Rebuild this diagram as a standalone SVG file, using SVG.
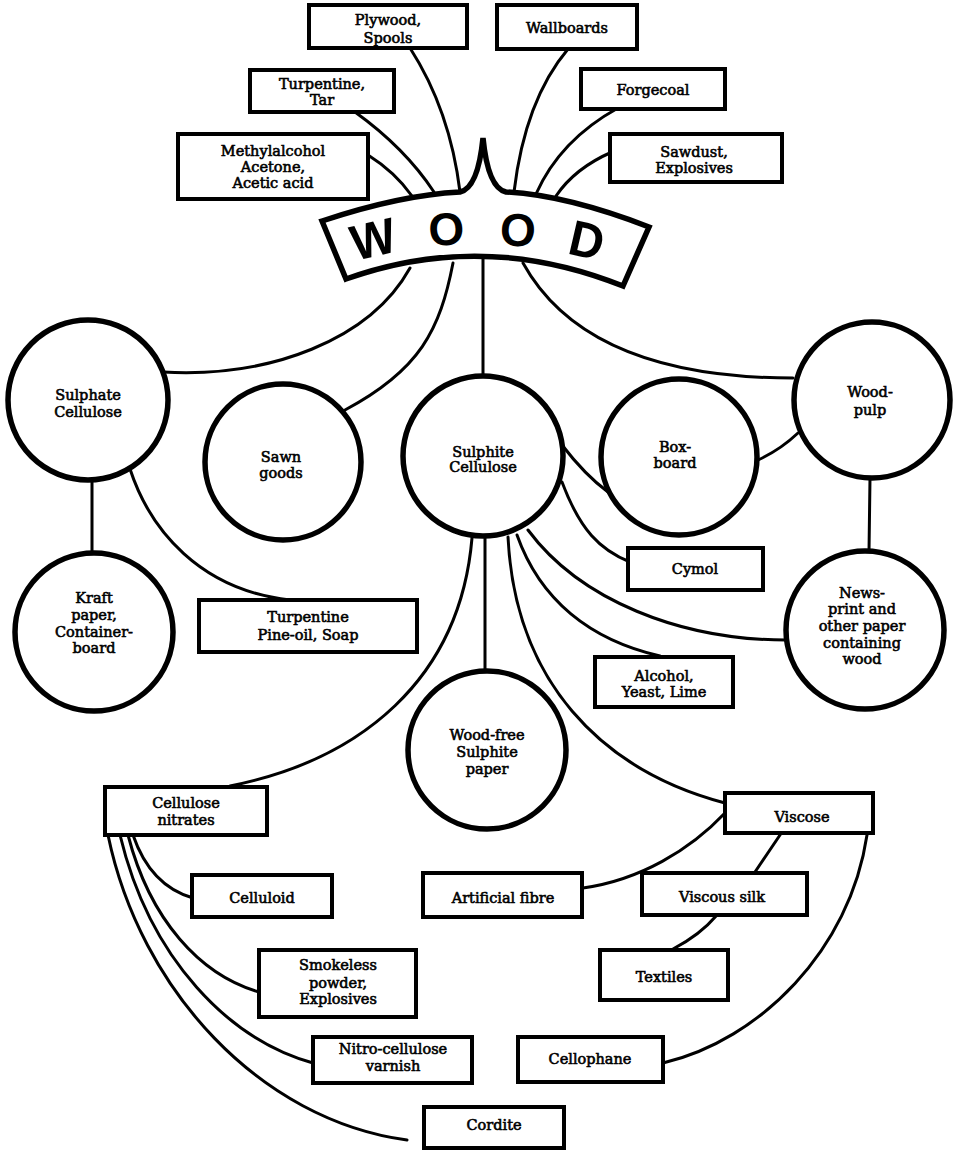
<svg xmlns="http://www.w3.org/2000/svg" width="953" height="1150" viewBox="0 0 953 1150">
<style>
.c{fill:none;stroke:#000;stroke-width:3;stroke-linecap:round}
.b{fill:#fff;stroke:#000;stroke-width:4}
.o{fill:#fff;stroke:#000;stroke-width:5.5}
text{font-family:"DejaVu Serif","Liberation Serif",serif;font-size:14.5px;fill:#000;stroke:#000;stroke-width:0.6;text-anchor:middle}
text.w{font-family:"Liberation Sans",sans-serif;font-weight:bold;stroke:none}
text.w1{font-size:50px}
text.w2{font-size:46px}
</style>
<rect width="953" height="1150" fill="#fff"/>
<g id="connectors">
<path class="c" d="M368,155 Q395,172 412,196"/>
<path class="c" d="M355,112 Q405,148 434,192"/>
<path class="c" d="M410,48 Q450,110 460,192"/>
<path class="c" d="M568,49 Q525,100 514,192"/>
<path class="c" d="M618,108 Q560,140 536,194"/>
<path class="c" d="M612,152 Q575,168 556,196"/>
<path class="c" d="M410,268 C370,340 270,378 163,372"/>
<path class="c" d="M453,263 C440,330 420,370 345,410"/>
<path class="c" d="M483,258 L483,377"/>
<path class="c" d="M523,263 C560,330 640,378 793,378"/>
<path class="c" d="M92,478 L92,555"/>
<path class="c" d="M130,469 C150,530 200,590 290,600"/>
<path class="c" d="M798,433 Q780,450 758,460"/>
<path class="c" d="M870,478 L869,552"/>
<path class="c" d="M562,445 Q585,475 608,492"/>
<path class="c" d="M562,482 C580,530 600,550 630,562"/>
<path class="c" d="M528,530 C580,600 680,640 786,640"/>
<path class="c" d="M517,535 C540,600 590,640 660,656"/>
<path class="c" d="M508,537 C515,680 600,770 725,803"/>
<path class="c" d="M485,538 L485,672"/>
<path class="c" d="M472,538 C460,680 360,760 230,786"/>
<path class="c" d="M725,813 C690,850 640,880 583,888"/>
<path class="c" d="M780,835 L755,872"/>
<path class="c" d="M717,915 Q700,935 673,949"/>
<path class="c" d="M867,835 C850,950 760,1040 663,1063"/>
<path class="c" d="M133,835 C145,870 165,890 193,898"/>
<path class="c" d="M128,835 C150,920 200,975 259,992"/>
<path class="c" d="M120,835 C150,960 230,1040 313,1063"/>
<path class="c" d="M108,835 C140,990 260,1120 407,1140"/>
</g>
<g id="wood">
<path class="o" d="M322,221 Q400,195 460,192 Q478,188 483,138 Q488,188 506,192 Q566,195 649,227 L623,286 Q483,230 346,279 Z"/>
<text class="w w1" transform="translate(377,256) rotate(-13) scale(0.95,1)">W</text>
<text class="w w2" transform="translate(447,245) rotate(-3)">O</text>
<text class="w w2" transform="translate(517,246) rotate(3)">O</text>
<text class="w w1" transform="translate(583,257) rotate(13) scale(0.95,1)">D</text>
</g>
<g id="plywood"><rect class="b" x="309" y="5" width="158" height="43"/><text x="388" y="25">Plywood,</text><text x="388" y="43">Spools</text></g>
<g id="wallboards"><rect class="b" x="497" y="5" width="140" height="44"/><text x="567" y="33">Wallboards</text></g>
<g id="turpentine-tar"><rect class="b" x="250" y="70" width="144" height="42"/><text x="322" y="89">Turpentine,</text><text x="322" y="105">Tar</text></g>
<g id="forgecoal"><rect class="b" x="581" y="69" width="144" height="40"/><text x="653" y="95">Forgecoal</text></g>
<g id="methylalcohol"><rect class="b" x="178" y="134" width="190" height="65"/><text x="273" y="156">Methylalcohol</text><text x="273" y="172">Acetone,</text><text x="273" y="188">Acetic  acid</text></g>
<g id="sawdust"><rect class="b" x="610" y="134" width="172" height="48"/><text x="694" y="157">Sawdust,</text><text x="694" y="173">Explosives</text></g>
<g id="sulphate"><circle class="o" cx="88" cy="400" r="80"/><text x="88" y="400">Sulphate</text><text x="88" y="417">Cellulose</text></g>
<g id="sawn"><circle class="o" cx="283" cy="462" r="78"/><text x="281" y="462">Sawn</text><text x="281" y="478">goods</text></g>
<g id="sulphite"><circle class="o" cx="483" cy="456" r="80"/><text x="483" y="457">Sulphite</text><text x="483" y="472">Cellulose</text></g>
<g id="boxboard"><circle class="o" cx="679" cy="457" r="78"/><text x="675" y="452">Box-</text><text x="675" y="468">board</text></g>
<g id="woodpulp"><circle class="o" cx="872" cy="400" r="78"/><text x="870" y="397">Wood-</text><text x="870" y="415">pulp</text></g>
<g id="kraft"><circle class="o" cx="94" cy="632" r="79"/><text x="94" y="603">Kraft</text><text x="94" y="620">paper,</text><text x="94" y="637">Container-</text><text x="94" y="653">board</text></g>
<g id="newsprint"><circle class="o" cx="865" cy="630" r="79"/><text x="862" y="598">News-</text><text x="862" y="614">print and</text><text x="862" y="631">other paper</text><text x="862" y="648">containing</text><text x="862" y="664">wood</text></g>
<g id="woodfree"><circle class="o" cx="487" cy="750" r="79"/><text x="487" y="740">Wood-free</text><text x="487" y="757">Sulphite</text><text x="487" y="774">paper</text></g>
<g id="turp-pine"><rect class="b" x="199" y="600" width="218" height="52"/><text x="308" y="622">Turpentine</text><text x="308" y="640">Pine-oil,  Soap</text></g>
<g id="cymol"><rect class="b" x="628" y="548" width="135" height="42"/><text x="695" y="574">Cymol</text></g>
<g id="alcohol"><rect class="b" x="595" y="657" width="138" height="50"/><text x="664" y="681">Alcohol,</text><text x="664" y="697">Yeast,  Lime</text></g>
<g id="cellulose-nitrates"><rect class="b" x="105" y="787" width="162" height="48"/><text x="186" y="808">Cellulose</text><text x="186" y="825">nitrates</text></g>
<g id="viscose"><rect class="b" x="725" y="793" width="148" height="40"/><text x="802" y="822">Viscose</text></g>
<g id="celluloid"><rect class="b" x="192" y="875" width="140" height="42"/><text x="262" y="903">Celluloid</text></g>
<g id="artificial"><rect class="b" x="423" y="873" width="159" height="44"/><text x="503" y="903">Artificial  fibre</text></g>
<g id="viscous"><rect class="b" x="642" y="873" width="165" height="42"/><text x="722" y="902">Viscous  silk</text></g>
<g id="smokeless"><rect class="b" x="259" y="950" width="157" height="67"/><text x="338" y="970">Smokeless</text><text x="338" y="988">powder,</text><text x="338" y="1004">Explosives</text></g>
<g id="textiles"><rect class="b" x="600" y="950" width="128" height="50"/><text x="664" y="982">Textiles</text></g>
<g id="nitro"><rect class="b" x="313" y="1037" width="159" height="46"/><text x="393" y="1054">Nitro-cellulose</text><text x="393" y="1071">varnish</text></g>
<g id="cellophane"><rect class="b" x="518" y="1037" width="145" height="45"/><text x="590" y="1064">Cellophane</text></g>
<g id="cordite"><rect class="b" x="424" y="1107" width="140" height="41"/><text x="494" y="1130">Cordite</text></g>
</svg>
